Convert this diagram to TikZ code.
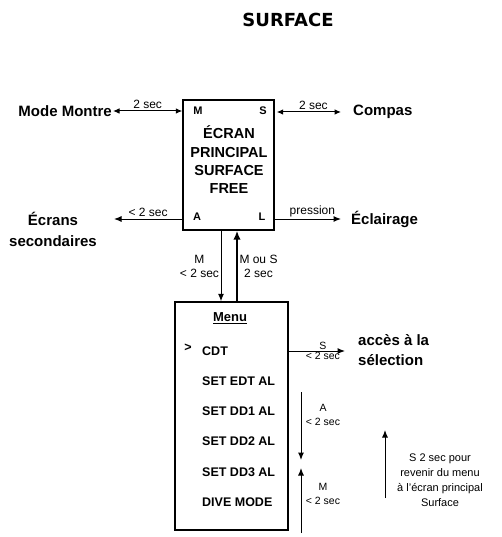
\documentclass[tikz,border=0pt]{standalone}
\usepackage{fontspec}
\setmainfont{Liberation Sans}
\newfontfamily\titlefont{DejaVu Sans}
\usetikzlibrary{arrows.meta, positioning}

\begin{document}
\begin{tikzpicture}[x=1pt, y=-1pt,
  lbl/.style={font=\fontsize{15}{18}\selectfont\bfseries, inner sep=1pt},
  key/.style={font=\fontsize{11}{12}\selectfont\bfseries, inner sep=0pt},
  tm/.style={font=\fontsize{12}{14}\selectfont, inner sep=1.5pt, align=center},
  tms/.style={font=\fontsize{10.5}{14}\selectfont, inner sep=1pt, align=center},
  item/.style={font=\fontsize{12.5}{14}\selectfont\bfseries, anchor=west,
               inner sep=0pt},
  screen/.style={draw, line width=1.4pt, minimum width=91pt,
                 minimum height=130pt},
  arr/.style={-{Latex[length=7.5pt,width=6pt]}, line width=1pt},
  dbl/.style={{Latex[length=6.5pt,width=5.5pt]}-{Latex[length=6.5pt,width=5.5pt]},
              line width=1pt}
]
\useasboundingbox (0,0) rectangle (501,537);
% title
\node[font=\titlefont\fontsize{18}{20}\selectfont\bfseries] (title)
  at (288,20) {SURFACE};
% main screen
\node[screen] (main) at (228.5,165) {};
\node[lbl, align=center, font=\fontsize{14.5}{18.3}\selectfont\bfseries]
  (scr) at (229,160) {ÉCRAN\\PRINCIPAL\\SURFACE\\FREE};
\node[key] (kM) at (198,111) {M};
\node[key] (kS) at (263,111) {S};
\node[key] (kA) at (197,217) {A};
\node[key] (kL) at (262,217) {L};
% side screens
\node[lbl, anchor=east] (mm) at (113,111) {Mode Montre};
\node[lbl, anchor=west] (cp) at (352,112) {Compas};
\node[lbl, align=center, font=\fontsize{15}{21}\selectfont\bfseries]
  (ec) at (53,229) {Écrans\\secondaires};
\node[lbl, anchor=west] (ecl) at (350,219) {Éclairage};
\coordinate (ecTip) at (114,219);
\draw[dbl] (mm.east) -- (main.west |- mm.east)
  node[tm, midway, above] {2 sec};
\draw[dbl, shorten <=2pt, shorten >=11pt] (main.east |- cp.west) -- (cp.west)
  node[tm, midway, above] {2 sec};
\draw[arr] (main.west |- ecTip) -- (ecTip)
  node[tm, midway, above] {< 2 sec};
\draw[arr, shorten >=9pt] (main.east |- ecl.west) -- (ecl.west)
  node[tm, midway, above] {pression};
% menu
\node[screen, minimum width=113pt, minimum height=228pt] (menu)
  at (231.5,416) {};
\node[font=\fontsize{13}{15}\selectfont\bfseries] (mtitle)
  at (230,318) {\underline{Menu}};
\node[item, anchor=center] (cur) at (188,348) {>};
\foreach \txt [count=\i] in {CDT, SET EDT AL, SET DD1 AL, SET DD2 AL,
                             SET DD3 AL, DIVE MODE}
  \node[item] (it\i) at (202,320.8+30.2*\i) {\txt};
% screen <-> menu
\coordinate (dnX) at (221,265);
\coordinate (upX) at (237,265);
\draw[arr] (main.south -| dnX) -- (menu.north -| dnX)
  node[tm, midway, left] {M\\< 2 sec};
\draw[-{Latex[length=9pt,width=7.5pt]}, line width=2pt]
  (menu.north -| upX) -- (main.south -| upX)
  node[tm, midway, right] {M ou S\\2 sec};
% selection
\node[lbl, anchor=west, align=left,
      font=\fontsize{15}{20}\selectfont\bfseries]
  (acc) at (357,350) {accès à la\\sélection};
\draw[arr, shorten >=12pt] (menu.east |- it1) -- (acc.west |- it1)
  node[tms, midway, above] {S} node[tms, midway, below] {< 2 sec};
% scrolling
\coordinate (aTop) at (301,392);
\coordinate (aBot) at (301,460);
\coordinate (mBot) at (301,533);
\coordinate (mTop) at (301,468);
\draw[arr] (aTop) -- (aBot);
\draw[arr] (mBot) -- (mTop);
\node[tms] (aLbl) at (323,415) {A\\< 2 sec};
\node[tms] (mLbl) at (323,494) {M\\< 2 sec};
% back to surface
\coordinate (nBot) at (385,498);
\coordinate (nTop) at (385,430);
\draw[arr] (nBot) -- (nTop);
\node[tms, font=\fontsize{11}{15}\selectfont] (note) at (440,480)
  {S 2 sec pour\\revenir du menu\\à l'écran principal\\Surface};
\end{tikzpicture}
\end{document}
